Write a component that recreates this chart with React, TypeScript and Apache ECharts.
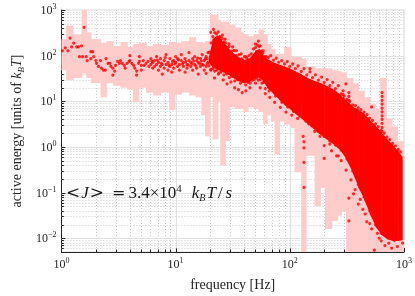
import React, { useEffect, useRef } from 'react';
import * as echarts from 'echarts';

// Axis ranges (frequency in Hz, energy in units of k_B T)
const X_MIN = 1;
const X_MAX = 1000;
const Y_MIN = 0.005;
const Y_MAX = 1000;
const yTickExponents = [-2, -1, 0, 1, 2, 3];

// Pink band: spread of active energy; each column runs from bandFreq[i] to the next edge
const bandFreq = [1, 1.10, 1.26, 1.50, 1.65, 1.81, 2.20, 2.46, 2.82, 3.29, 3.76, 4.22, 4.73, 5.51, 6.31, 7.36, 8.75, 9.8, 11.2, 13.1, 14.9, 16.8, 18.1, 20.0, 21.1, 23.3, 24.6, 27.1, 29.3, 32.9, 36.9, 39.1, 42.9, 48.3, 53.1, 58.4, 63.1, 68.1, 73.6, 80.9, 89.1, 102, 110, 126, 138, 165, 184, 203, 232, 261, 282, 311, 355, 398, 447, 501, 562, 619, 695, 779, 874];
const bandEnd = 1000;
const bandHigh = [230, 457, 294, 1000, 324, 230, 189, 208, 163, 199, 155, 180, 189, 163, 180, 171, 199, 189, 208, 254, 199, 189, 208, 783, 783, 613, 555, 555, 480, 414, 324, 294, 266, 294, 375, 294, 180, 141, 110, 110, 155, 95, 95, 86, 58, 53, 53, 53, 48, 45.5, 43.5, 32.4, 25, 17, 12.2, 8.7, 6.8, 32.4, 4.2, 2.8, 1.34];
const bandLow = [48, 29.4, 32.4, 41, 32.4, 25, 12.2, 25, 21.9, 19.8, 18, 9.5, 19.8, 15.5, 13.4, 15.5, 6.4, 14, 15.5, 13.4, 12.2, 5, 1.7, 12.2, 1.47, 9.5, 0.39, 1.34, 7.4, 6.8, 6.8, 5.8, 7.4, 6.8, 5.8, 3.2, 5, 3.6, 0.7, 3.6, 3.1, 2.6, 0.28, 0.004, 0.64, 0.05, 0.126, 0.016, 0.024, 0.031, 0.038, 0.004, 0.004, 0.004, 0.004, 0.004, 0.004, 0.004, 0.004, 0.004, 0.004];

// Dense core of the red point cloud (outline through these frequencies)
const coreFreq = [19.5, 21, 23, 25, 28, 31, 35, 40, 45, 50, 54, 58, 63, 71, 80, 90, 100, 112, 126, 141, 158, 178, 200, 224, 251, 282, 316, 355, 398, 447, 501, 562, 631, 708, 794, 891, 962];
const coreHigh = [90, 230, 280, 230, 160, 120, 95, 80, 90, 130, 140, 105, 86, 72, 64, 58, 52, 45, 39, 33, 29, 26, 23, 20, 17, 13, 10, 7.6, 6.6, 5.3, 3.9, 2.9, 2.1, 1.5, 1.1, 0.8, 0.6];
const coreLow = [70, 55, 50, 45, 40, 34, 28, 25, 27, 33, 33, 28, 20, 14.8, 11, 8.2, 6.8, 5.3, 4.2, 3.3, 2.6, 2.0, 1.6, 1.3, 1.05, 0.8, 0.5, 0.27, 0.13, 0.071, 0.034, 0.018, 0.012, 0.0095, 0.0087, 0.0087, 0.009];

// Individual points [frequency Hz, energy k_B T]
const lowFreqDots = [[1.02, 128], [1.08, 148], [1.14, 128], [1.19, 241], [1.23, 155], [1.28, 189], [1.36, 155], [1.41, 155], [1.50, 163], [1.58, 414], [1.44, 95], [1.53, 95], [1.65, 95], [1.68, 78], [1.81, 122], [1.88, 122], [1.81, 86], [1.92, 95], [2.0, 78], [2.03, 68], [2.11, 58], [2.20, 78], [2.24, 53], [2.33, 48], [2.42, 48], [2.46, 86], [2.56, 68], [2.66, 68], [2.71, 58], [2.82, 53], [2.93, 46], [2.98, 61], [3.10, 75], [3.22, 68], [3.29, 78], [3.41, 68], [3.55, 61], [3.62, 53], [3.76, 68], [3.91, 75], [3.98, 78], [4.14, 68], [4.30, 61], [4.39, 53], [4.56, 46], [4.73, 68], [4.82, 75], [5.01, 61], [5.21, 78], [5.31, 61], [5.51, 68], [5.73, 75], [5.84, 58], [2.82, 37.5], [4.56, 37.5], [5.01, 48], [3.98, 100], [4.82, 95]];
const midFreqDots = [[6.07, 64], [6.07, 86], [6.31, 53], [6.31, 71], [6.56, 78], [6.56, 58], [6.81, 64], [6.81, 95], [7.08, 48], [7.08, 71], [7.36, 86], [7.36, 58], [7.64, 64], [7.64, 39.4], [7.94, 78], [7.94, 53], [8.25, 64], [8.25, 105], [8.58, 71], [8.58, 48], [8.91, 86], [8.91, 58], [9.26, 64], [9.26, 43.5], [9.62, 78], [9.62, 53], [10, 71], [10, 95], [10.4, 58], [10.4, 86], [10.8, 64], [10.8, 48], [11.2, 78], [11.2, 105], [11.7, 58], [11.7, 71], [12.1, 86], [12.1, 43.5], [12.6, 64], [12.6, 53], [13.1, 78], [13.1, 116], [13.6, 58], [13.6, 71], [14.1, 86], [14.1, 48], [14.7, 64], [14.7, 95], [15.3, 53], [15.3, 78], [15.8, 71], [15.8, 39.4], [16.5, 86], [16.5, 58], [17.1, 64], [17.1, 105], [17.8, 78], [17.8, 48], [18.5, 95], [18.5, 58], [19.2, 116], [19.2, 71], [6.2, 75], [6.9, 80], [7.5, 68], [8.1, 90], [8.7, 62], [9.4, 74], [9.9, 66], [10.6, 82], [11.5, 66], [12.3, 74], [12.9, 62], [13.9, 66], [14.4, 76], [15, 60], [15.6, 88], [16.2, 67], [16.8, 76], [17.5, 62], [18.2, 84], [18.9, 66]];
const peakDots = [[20.3, 324], [21.5, 375], [22.4, 199], [24.1, 254], [25.7, 280], [27.1, 230], [29.3, 180], [31.6, 155], [34.1, 128], [37.5, 110], [41.2, 95], [20.3, 48], [21.9, 32.4], [23.7, 39.4], [26.1, 29.4], [28.2, 24.1], [30.5, 26.6], [32.9, 19.8], [35.5, 18], [38.3, 15.5], [41.2, 17], [44.7, 19.8], [18.8, 86], [18.5, 41], [50.1, 180], [53.1, 208], [55, 163], [58.4, 128], [50.1, 25], [55, 19.8], [61, 14.8], [19.8, 120], [20.5, 190], [21.2, 260], [22, 320], [22.8, 300], [23.6, 330], [24.5, 260], [25.5, 240], [26.5, 200], [27.5, 190], [28.5, 150], [29.5, 160], [31, 125], [32.5, 130], [34, 100], [36, 105], [38, 85], [40, 95], [42, 88], [44, 100], [46, 110], [48, 140], [50, 150], [52, 170], [54, 160], [56, 125], [58, 115], [60, 95], [62, 95], [19.6, 60], [20.4, 50], [21.2, 52], [22, 46], [23, 48], [24, 42], [25, 44], [26.5, 38], [28, 40], [29.5, 33], [31, 35], [33, 28], [35, 30], [37, 25], [39, 27], [41, 23], [43, 26], [45, 25], [47, 29], [49, 30], [51, 32], [53, 29], [55, 30], [57, 25], [59, 26], [61, 19]];
const highFreqDots = [[66.8, 12.2], [73.6, 9.5], [82.5, 7.4], [92.6, 5.8], [104, 5.0], [117, 4.2], [131, 4.6], [131, 1.7], [133, 1.3], [133, 0.95], [133, 0.46], [133, 0.13], [147, 3.2], [165, 2.2], [184, 1.7], [200, 1.07], [200, 0.56], [224, 1.15], [257, 0.64], [329, 0.076], [329, 0.024], [373, 0.116], [414, 0.071], [457, 0.034], [501, 0.021], [550, 0.0055], [584, 0.0128], [631, 0.0088], [681, 0.0069], [736, 0.0078], [779, 0.0061], [825, 0.009], [874, 0.0066], [927, 0.0128], [973, 0.0078], [607, 0.01], [670, 0.014], [521, 0.016], [472, 0.023], [436, 0.043], [398, 0.056], [361, 0.094], [343, 0.19], [311, 0.31], [282, 0.5], [266, 0.64], [232, 0.82], [65, 92], [68, 100], [72, 80], [76, 88], [80, 72], [85, 78], [90, 66], [95, 74], [100, 58], [106, 66], [112, 52], [118, 60], [126, 45], [133, 52], [141, 38], [150, 44], [158, 33], [168, 38], [178, 29], [190, 34], [200, 26], [212, 30], [224, 22], [238, 26], [251, 19], [266, 22], [282, 14.5], [298, 13], [316, 11], [335, 10], [355, 8.3], [376, 8], [398, 7.2], [420, 6.6], [447, 5.8], [475, 5.1], [501, 4.3], [530, 3.8], [562, 3.2], [595, 2.8], [631, 2.3], [670, 2.0], [708, 1.65], [750, 1.45], [794, 1.2], [840, 1.05], [891, 0.88], [930, 0.78], [66, 17], [70, 19], [75, 13], [80, 14], [85, 9.5], [90, 11], [96, 7.5], [102, 8.5], [108, 6], [115, 6.8], [122, 4.8], [130, 5.3], [138, 3.7], [147, 4.1], [156, 2.9], [166, 3.2], [176, 2.2], [188, 2.5], [200, 1.7], [212, 1.9], [224, 1.35], [238, 1.5], [251, 1.1], [266, 1.2], [282, 0.85], [298, 0.95], [316, 0.55], [335, 0.62], [355, 0.3], [376, 0.38], [398, 0.15], [420, 0.2], [447, 0.08], [475, 0.1], [501, 0.04], [530, 0.05], [562, 0.02], [595, 0.026], [631, 0.013], [670, 0.016], [150, 52], [310, 24], [520, 7.5]];
// Vertical runs of points at single frequencies
const columnFreqs = [293, 329, 643];
const columnEnergies = [
  [17, 14, 11.5, 9.5, 7.8, 6.4, 5.3, 4.4, 3.6, 3.0, 2.45, 2.0, 1.65, 1.34],
  [15.5, 12.8, 10.5, 8.7, 7.1, 5.9, 4.8, 4.0, 3.3, 2.7, 2.2, 1.8, 1.5, 1.2],
  [15.5, 12.8, 10.5, 8.7, 7.1, 5.9, 4.8, 4.0, 3.3, 2.7, 2.2, 1.8],
];

const FONT = "'Liberation Serif', 'DejaVu Serif', serif";
const SYM = "'DejaVu Serif', serif";
const INK = '#262626';
const TXT = '#1a1a1a';

const L = Math.log10;

export default function App() {
  const ref = useRef<HTMLDivElement>(null);
  useEffect(() => {
    const chart = echarts.init(ref.current!, null, { renderer: 'svg' });
    const lx0 = L(X_MIN), lx1 = L(X_MAX), ly0 = L(Y_MIN), ly1 = L(Y_MAX);

    const gridItems: number[][] = [];
    for (let n = -1; n <= 3; n++) for (let k = 1; k <= 9; k++) {
      const v = L(k) + n;
      if (v >= lx0 - 1e-9 && v <= lx1 + 1e-9) gridItems.push([0, v, k === 1 ? 1 : 0]);
    }
    for (let n = -3; n <= 3; n++) for (let k = 1; k <= 9; k++) {
      const v = L(k) + n;
      if (v >= ly0 - 1e-9 && v <= ly1 + 1e-9) gridItems.push([1, v, k === 1 ? 1 : 0]);
    }

    const bandData = bandFreq.map((f, i) => [L(f), L(i + 1 < bandFreq.length ? bandFreq[i + 1] : bandEnd), L(bandLow[i]), L(bandHigh[i])]);
    const coreData = coreFreq.slice(0, -1).map((f, i) => [L(f), L(coreFreq[i + 1]), L(coreLow[i]), L(coreHigh[i]), L(coreLow[i + 1]), L(coreHigh[i + 1])]);

    const dots: number[][] = [];
    [lowFreqDots, midFreqDots, peakDots, highFreqDots].forEach((arr) =>
      arr.forEach((d) => dots.push([L(d[0]), L(d[1])]))
    );
    columnFreqs.forEach((f, i) => columnEnergies[i].forEach((e) => dots.push([L(f), L(e)])));

    const supLabel = (v: number) => '{b|10}{s|' + (v < 0 ? '\u2212' + -v : String(v)) + '}';
    const labelRich = {
      b: { fontFamily: FONT, fontSize: 12, color: INK, lineHeight: 15 },
      s: { fontFamily: FONT, fontSize: 8, color: INK, verticalAlign: 'top' as const },
    };

    chart.setOption({
      animation: false,
      grid: { left: 46, right: 9, top: 10, bottom: 37, show: true, borderColor: '#d9d9d9', borderWidth: 1, backgroundColor: 'transparent' },
      xAxis: {
        type: 'value', min: lx0, max: lx1, interval: 1,
        axisLine: { onZero: false, lineStyle: { color: INK, width: 1 } },
        axisTick: { show: false }, splitLine: { show: false },
        axisLabel: { formatter: supLabel, rich: labelRich, margin: 4 },
        name: 'frequency [Hz]', nameLocation: 'middle', nameGap: 25,
        nameTextStyle: { fontFamily: FONT, fontSize: 14, color: INK },
      },
      yAxis: {
        type: 'value', min: ly0, max: ly1,
        axisLine: { onZero: false, lineStyle: { color: INK, width: 1 } },
        axisTick: { show: false }, splitLine: { show: false },
        axisLabel: { customValues: yTickExponents, formatter: supLabel, rich: labelRich, margin: 5 },
        name: 'active energy [units of {i|k}{sub|B}{i|T}]', nameLocation: 'middle', nameGap: 32,
        nameTextStyle: {
          fontFamily: FONT, fontSize: 14, color: INK, lineHeight: 17,
          rich: {
            i: { fontFamily: FONT, fontSize: 14, fontStyle: 'italic', color: INK, lineHeight: 17 },
            sub: { fontFamily: FONT, fontSize: 9, fontStyle: 'italic', color: INK, verticalAlign: 'bottom' },
          },
        },
      },
      graphic: [{
        type: 'text', x: 65, y: 192, z: 100,
        style: {
          text: '{r|<}{i|J}{r|>}{e|=}{n|3.4\u00d710}{sup|4}{k|k}{sub|B}{t|T}{sl|/}{i|s}',
          verticalAlign: 'middle', align: 'left',
          fontFamily: FONT, fontSize: 17, fill: TXT, lineHeight: 20,
          rich: {
            r: { fontFamily: SYM, fontSize: 17, fill: TXT, lineHeight: 20, padding: [0, 1, 0, 1] },
            e: { fontFamily: SYM, fontSize: 16, fill: TXT, lineHeight: 20, padding: [0, 3, 0, 7] },
            i: { fontFamily: FONT, fontSize: 17, fontStyle: 'italic', fill: TXT, lineHeight: 20 },
            t: { fontFamily: FONT, fontSize: 17, fontStyle: 'italic', fill: TXT, lineHeight: 20, padding: [0, 0, 0, 1] },
            k: { fontFamily: FONT, fontSize: 17, fontStyle: 'italic', fill: TXT, lineHeight: 20, padding: [0, 0, 0, 10] },
            n: { fontFamily: FONT, fontSize: 17, fill: TXT, lineHeight: 20 },
            sl: { fontFamily: FONT, fontSize: 17, fill: TXT, lineHeight: 20, padding: [0, 3, 0, 2] },
            sup: { fontFamily: FONT, fontSize: 11, fill: TXT, verticalAlign: 'top' },
            sub: { fontFamily: FONT, fontSize: 10, fontStyle: 'italic', fill: TXT, verticalAlign: 'bottom' },
          },
        },
      }],
      series: [
        {
          type: 'custom', silent: true, z: 1,
          data: gridItems,
          renderItem: (params: any, api: any) => {
            const cs = params.coordSys;
            const dim = api.value(0), v = api.value(1), major = api.value(2);
            const gridStyle = major
              ? { stroke: '#e3e3e3', lineWidth: 1 }
              : { stroke: '#cccccc', lineWidth: 1, lineDash: [1, 2] };
            const tickLen = major ? 4 : 2.5;
            const children: any[] = [];
            if (dim === 0) {
              const px = Math.round(api.coord([v, ly0])[0]) + 0.5;
              const edge = Math.abs(v - lx0) < 1e-6 || Math.abs(v - lx1) < 1e-6;
              if (!edge) children.push({ type: 'line', shape: { x1: px, y1: cs.y, x2: px, y2: cs.y + cs.height }, style: gridStyle });
              children.push({ type: 'line', shape: { x1: px, y1: cs.y + cs.height, x2: px, y2: cs.y + cs.height - tickLen }, style: { stroke: INK, lineWidth: 1 } });
            } else {
              const py = Math.round(api.coord([lx0, v])[1]) + 0.5;
              const edge = Math.abs(v - ly0) < 1e-6 || Math.abs(v - ly1) < 1e-6;
              if (!edge) children.push({ type: 'line', shape: { x1: cs.x, y1: py, x2: cs.x + cs.width, y2: py }, style: gridStyle });
              children.push({ type: 'line', shape: { x1: cs.x, y1: py, x2: cs.x + tickLen, y2: py }, style: { stroke: INK, lineWidth: 1 } });
            }
            return { type: 'group', children };
          },
        },
        {
          type: 'custom', silent: true, z: 2,
          data: bandData,
          renderItem: (params: any, api: any) => {
            const cs = params.coordSys;
            const p0 = api.coord([api.value(0), api.value(3)]);
            const p1 = api.coord([api.value(1), api.value(2)]);
            const shape = echarts.graphic.clipRectByRect(
              { x: p0[0], y: p0[1], width: p1[0] - p0[0] + 0.8, height: p1[1] - p0[1] },
              { x: cs.x, y: cs.y, width: cs.width, height: cs.height }
            );
            if (!shape) return null;
            return { type: 'rect', shape, style: { fill: '#ffcccc' } };
          },
        },
        {
          type: 'custom', silent: true, z: 3,
          data: coreData,
          renderItem: (params: any, api: any) => {
            const a = api.coord([api.value(0), api.value(3)]);
            const b = api.coord([api.value(1), api.value(5)]);
            const c = api.coord([api.value(1), api.value(4)]);
            const d = api.coord([api.value(0), api.value(2)]);
            return {
              type: 'polygon',
              shape: { points: [[a[0], a[1]], [b[0] + 0.6, b[1]], [c[0] + 0.6, c[1]], [d[0], d[1]]] },
              style: { fill: '#ff0000' },
            };
          },
        },
        {
          type: 'scatter', silent: true, z: 4,
          symbol: 'circle', symbolSize: 3.2,
          itemStyle: { color: '#ff0000' },
          data: dots,
        },
      ],
    });
    return () => chart.dispose();
  }, []);
  return <div ref={ref} style={{ position: 'fixed', left: 0, top: 0, width: 415, height: 296 }} />;
}
